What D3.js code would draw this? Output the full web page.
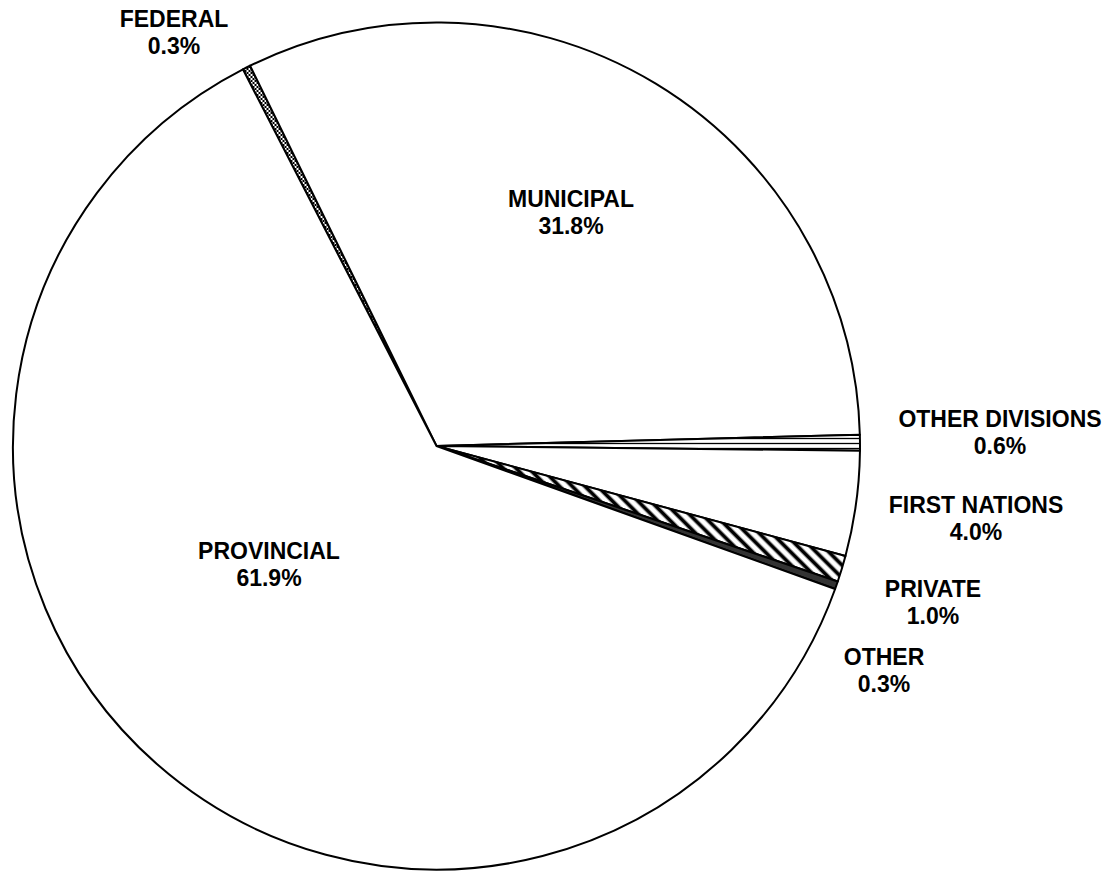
<!DOCTYPE html>
<html>
<head>
<meta charset="utf-8">
<script src="https://cdn.jsdelivr.net/npm/d3@7"></script>
<style>
  body { margin: 0; background: #fff; }
</style>
</head>
<body>
<div id="chart"></div>
<script>
const categories = ["FEDERAL", "MUNICIPAL", "OTHER DIVISIONS", "FIRST NATIONS", "PRIVATE", "OTHER", "PROVINCIAL"];
const shares = [0.3, 31.8, 0.6, 4.0, 1.0, 0.3, 61.9];
const shareLabels = ["0.3%", "31.8%", "0.6%", "4.0%", "1.0%", "0.3%", "61.9%"];
const fills = ["url(#checks)", "#fff", "url(#hlines)", "#fff", "url(#hatch)", "#333", "#fff"];

// label anchor points (centre x, first baseline y)
const labelPos = [[174, 27], [571, 207], [1000, 427], [976, 513], [933, 597], [884, 665], [269, 559]];

const width = 1111;
const height = 872;
const cx = 436.5, cy = 446, radius = 423.5;
const start = -27.2 * Math.PI / 180;

const svg = d3.select("#chart")
  .append("svg")
  .attr("width", width)
  .attr("height", height);

const defs = svg.append("defs");

//Federal checks
const checks = defs.append("pattern")
  .attr("id", "checks")
  .attr("patternUnits", "userSpaceOnUse")
  .attr("width", 4).attr("height", 4);
checks.append("rect").attr("width", 4).attr("height", 4).attr("fill", "#fff");
checks.append("rect").attr("width", 2).attr("height", 2).attr("fill", "#000");
checks.append("rect").attr("x", 2).attr("y", 2).attr("width", 2).attr("height", 2).attr("fill", "#000");

//Other divisions lines
const hlines = defs.append("pattern")
  .attr("id", "hlines")
  .attr("patternUnits", "userSpaceOnUse")
  .attr("width", 6).attr("height", 5);
hlines.append("rect").attr("width", 6).attr("height", 5).attr("fill", "#fff");
hlines.append("line").attr("x1", 0).attr("x2", 6).attr("y1", 2.5).attr("y2", 2.5)
  .attr("stroke", "#000").attr("stroke-width", 1.3);

//Private hatch
const hatch = defs.append("pattern")
  .attr("id", "hatch")
  .attr("patternUnits", "userSpaceOnUse")
  .attr("width", 9).attr("height", 9)
  .attr("patternTransform", "rotate(-45)");
hatch.append("rect").attr("width", 9).attr("height", 9).attr("fill", "#fff");
hatch.append("line").attr("x1", 4.5).attr("x2", 4.5).attr("y1", 0).attr("y2", 9)
  .attr("stroke", "#000").attr("stroke-width", 3.8);

const pie = d3.pie()
  .sort(null)
  .value(d => d)
  .startAngle(start)
  .endAngle(start + 2 * Math.PI);

const arc = d3.arc().innerRadius(0).outerRadius(radius);

const g = svg.append("g").attr("transform", `translate(${cx},${cy})`);

g.selectAll(".slice")
  .data(pie(shares))
  .enter()
  .append("path")
  .attr("class", "slice")
  .attr("d", arc)
  .attr("fill", (d, i) => fills[i])
  .attr("stroke", "#000")
  .attr("stroke-width", 2)
  .attr("stroke-linejoin", "round");

//Labels
const labels = svg.selectAll(".label")
  .data(categories)
  .enter()
  .append("text")
  .attr("class", "label")
  .attr("text-anchor", "middle")
  .attr("font-family", "'Liberation Sans', Arial, sans-serif")
  .attr("font-weight", "bold")
  .attr("font-size", 23)
  .attr("fill", "#000");

labels.append("tspan")
  .attr("x", (d, i) => labelPos[i][0])
  .attr("y", (d, i) => labelPos[i][1])
  .text(d => d);

labels.append("tspan")
  .attr("x", (d, i) => labelPos[i][0])
  .attr("y", (d, i) => labelPos[i][1] + 27)
  .text((d, i) => shareLabels[i]);
</script>
</body>
</html>
